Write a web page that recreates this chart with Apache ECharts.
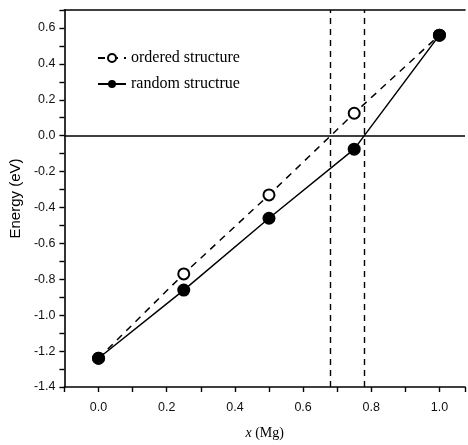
<!DOCTYPE html>
<html>
<head>
<meta charset="utf-8">
<script src="https://cdn.jsdelivr.net/npm/echarts@6/dist/echarts.min.js"></script>
<style>
  html, body { margin: 0; padding: 0; background: #fff; }
  #chart { width: 468px; height: 445px; }
</style>
</head>
<body>
<div id="chart"></div>
<script>
// x (Mg) composition
const xValues = [0, 0.25, 0.5, 0.75, 1.0]
// energies (eV)
const orderedEnergy = [-1.24, -0.77, -0.33, 0.125, 0.56]
const randomEnergy = [-1.24, -0.86, -0.46, -0.075, 0.56]
// zero crossings marked with dashed verticals
const crossings = [0.682, 0.78]
const seriesNames = ['ordered structure', 'random structrue']

const chart = echarts.init(document.getElementById('chart'))

function pairs(xs, ys) {
  return xs.map((x, i) => [x, ys[i]])
}

function evenTenth(v) {
  let k = Math.round(v * 10)
  return Math.abs(v * 10 - k) < 1e-6 && k % 2 === 0
}

const tickFont = { fontFamily: 'Liberation Sans', fontSize: 12.5, color: '#111' }

let option = {
  animation: false,
  grid: { left: 62, top: 10, right: 0, bottom: 55 },
  legend: {
    orient: 'vertical',
    left: 92,
    top: 45,
    itemWidth: 28,
    itemHeight: 10,
    itemGap: 10,
    data: seriesNames,
    textStyle: { fontFamily: 'Liberation Serif', fontSize: 16, color: '#000' }
  },
  xAxis: [{
    type: 'value',
    min: -0.1,
    max: 1.075,
    interval: 0.1,
    name: '{i|x} (Mg)',
    nameLocation: 'middle',
    nameGap: 39,
    nameTextStyle: {
      fontFamily: 'Liberation Serif', fontSize: 14, color: '#000',
      rich: { i: { fontFamily: 'Liberation Serif', fontStyle: 'italic', fontSize: 14, color: '#000' } }
    },
    axisLine: { onZero: false, lineStyle: { color: '#000', width: 1.6 } },
    axisTick: { length: 5, lineStyle: { color: '#000', width: 1.4 } },
    axisLabel: Object.assign({
      margin: 14,
      formatter: v => (evenTenth(v) && v > -0.05 && v < 1.05) ? v.toFixed(1) : ''
    }, tickFont),
    splitLine: { show: false }
  }, {
    type: 'value',
    position: 'top',
    min: -0.1,
    max: 1.075,
    axisLine: { show: true, onZero: false, lineStyle: { color: '#000', width: 1.6 } },
    axisTick: { show: false },
    axisLabel: { show: false },
    splitLine: { show: false }
  }],
  yAxis: {
    type: 'value',
    min: -1.4,
    max: 0.7,
    interval: 0.1,
    name: 'Energy (eV)',
    nameLocation: 'middle',
    nameGap: 35,
    nameTextStyle: { fontFamily: 'Liberation Sans', fontSize: 15, color: '#000' },
    axisLine: { show: true, onZero: false, lineStyle: { color: '#000', width: 1.6 } },
    axisTick: { length: 5, lineStyle: { color: '#000', width: 1.4 } },
    axisLabel: Object.assign({
      margin: 9,
      formatter: v => (evenTenth(v) && v < 0.65) ? v.toFixed(1) : ''
    }, tickFont),
    splitLine: { show: false }
  },
  series: [
    {
      name: 'guides',
      type: 'line',
      data: [],
      silent: true,
      markLine: {
        symbol: 'none',
        silent: true,
        label: { show: false },
        data: [
          { yAxis: 0, lineStyle: { type: 'solid', width: 1.6, color: '#000' } },
          { xAxis: crossings[0], lineStyle: { type: [6, 5], width: 1.4, color: '#000' } },
          { xAxis: crossings[1], lineStyle: { type: [6, 5], width: 1.4, color: '#000' } }
        ]
      }
    },
    {
      name: seriesNames[0],
      type: 'line',
      data: pairs(xValues, orderedEnergy),
      symbol: 'emptyCircle',
      symbolSize: 11,
      itemStyle: { color: '#000', borderColor: '#000', borderWidth: 1 },
      lineStyle: { color: '#000', width: 1.5, type: [7, 6] },
      z: 3
    },
    {
      name: seriesNames[1],
      type: 'line',
      data: pairs(xValues, randomEnergy),
      symbol: 'circle',
      symbolSize: 13,
      itemStyle: { color: '#000' },
      lineStyle: { color: '#000', width: 1.5 },
      z: 4
    }
  ]
}

chart.setOption(option)
</script>
</body>
</html>
